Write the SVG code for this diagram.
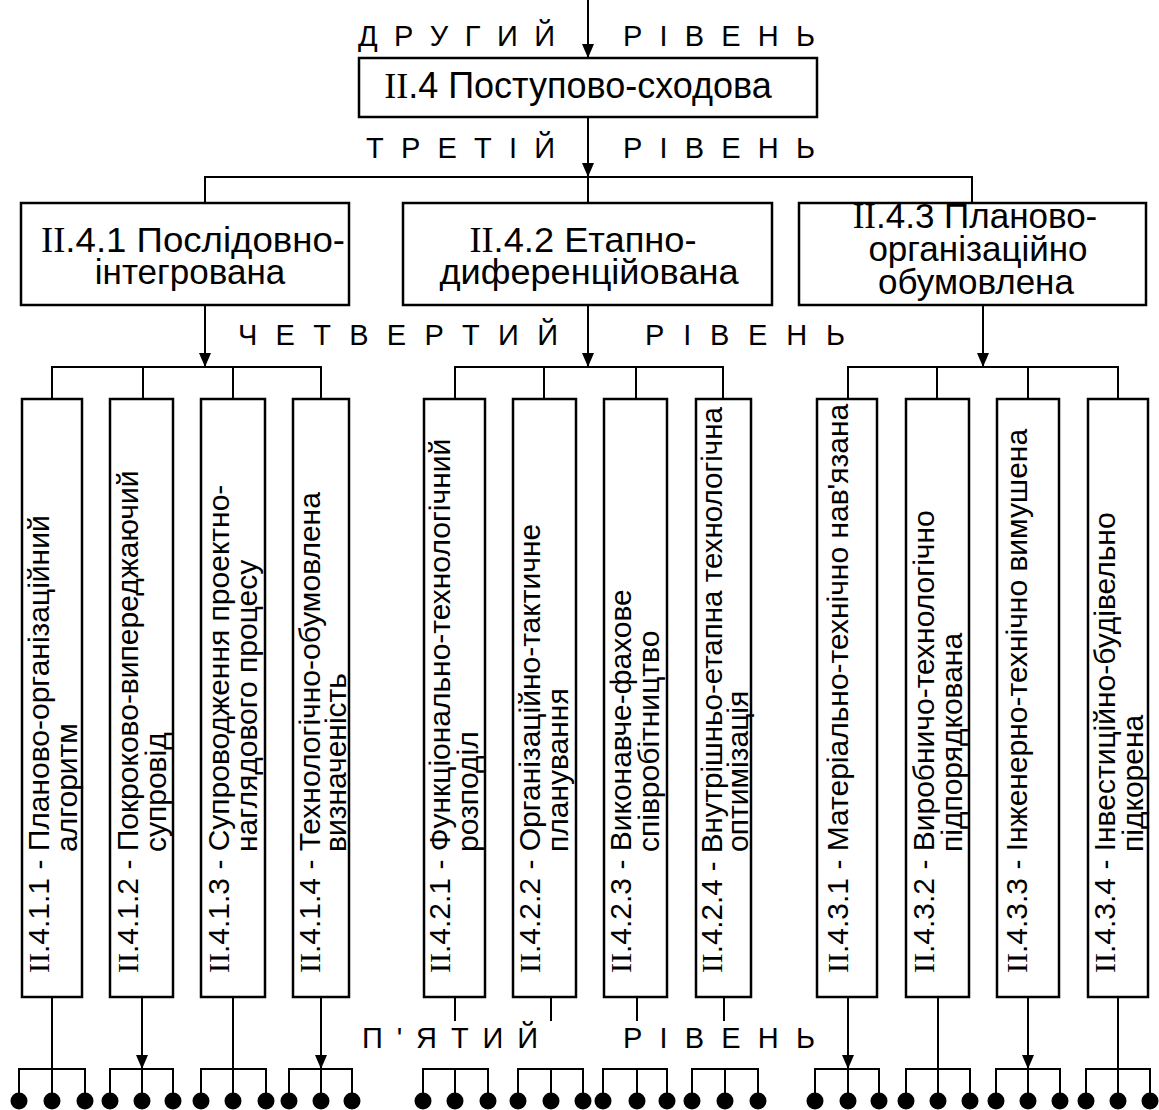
<svg xmlns="http://www.w3.org/2000/svg" width="1159" height="1110" viewBox="0 0 1159 1110">
<style>
text{font-family:"Liberation Sans",Arial,sans-serif;fill:#000}
.r{font-family:"Liberation Serif","Times New Roman",serif}
.lvl{font-size:29px}
.t3{font-size:35px;text-anchor:middle}
.t2{font-size:36px;text-anchor:middle}
.v{font-size:30px}
.box{fill:#fff;stroke:#000;stroke-width:2.5}
.ln{fill:none;stroke:#000;stroke-width:2}
.dot{fill:#000}
</style>
<defs>
<marker id="ar" markerUnits="userSpaceOnUse" markerWidth="14" markerHeight="12" viewBox="0 0 14 12" refX="14" refY="6" orient="auto">
<path d="M0,0 L14,6 L0,12 z" fill="#000"/>
</marker>
</defs>

<g id="labels" class="lvl">
<text x="358" y="46" textLength="197" lengthAdjust="spacing">Д Р У Г И Й</text>
<text x="623" y="46" textLength="192" lengthAdjust="spacing">Р І В Е Н Ь</text>
<text x="366" y="158" textLength="189" lengthAdjust="spacing">Т Р Е Т І Й</text>
<text x="623" y="158" textLength="192" lengthAdjust="spacing">Р І В Е Н Ь</text>
<text x="238" y="345" textLength="320" lengthAdjust="spacing">Ч Е Т В Е Р Т И Й</text>
<text x="645" y="345" textLength="200" lengthAdjust="spacing">Р І В Е Н Ь</text>
<text x="362" y="1048" textLength="176" lengthAdjust="spacing">П ' Я Т И Й</text>
<text x="623" y="1048" textLength="192" lengthAdjust="spacing">Р І В Е Н Ь</text>
</g>

<g id="connectors">
<path class="ln" d="M588,0 V58" marker-end="url(#ar)"/>
<path class="ln" d="M588,117 V177" marker-end="url(#ar)"/>
<path class="ln" d="M205,203 V177 H972 V203 M588,177 V203"/>
<path class="ln" d="M205,305 V367" marker-end="url(#ar)"/>
<path class="ln" d="M588,305 V367" marker-end="url(#ar)"/>
<path class="ln" d="M983,305 V367" marker-end="url(#ar)"/>
<path class="ln" d="M52,399 V367 H321 V399 M143,367 V399 M233,367 V399"/>
<path class="ln" d="M455,399 V367 H723 V399 M544,367 V399 M636,367 V399"/>
<path class="ln" d="M848,399 V367 H1118 V399 M937,367 V399 M1028,367 V399"/>
<path class="ln" d="M52,997 V1069"/>
<path class="ln" d="M142,997 V1069" marker-end="url(#ar)"/>
<path class="ln" d="M233,997 V1069"/>
<path class="ln" d="M321,997 V1069" marker-end="url(#ar)"/>
<path class="ln" d="M19,1101 V1069 H85 V1101 M52,1069 V1101"/>
<path class="ln" d="M110,1101 V1069 H173 V1101 M142,1069 V1101"/>
<path class="ln" d="M201,1101 V1069 H266 V1101 M233,1069 V1101"/>
<path class="ln" d="M289,1101 V1069 H352 V1101 M321,1069 V1101"/>
<path class="ln" d="M455,997 V1021 M551,997 V1021 M637,997 V1021 M724,997 V1021"/>
<path class="ln" d="M423,1101 V1069 H488 V1101 M455,1069 V1101"/>
<path class="ln" d="M518,1101 V1069 H583 V1101 M551,1069 V1101"/>
<path class="ln" d="M603,1101 V1069 H667 V1101 M637,1069 V1101"/>
<path class="ln" d="M692,1101 V1069 H758 V1101 M725,1069 V1101"/>
<path class="ln" d="M848,997 V1069" marker-end="url(#ar)"/>
<path class="ln" d="M938,997 V1069"/>
<path class="ln" d="M1028,997 V1069" marker-end="url(#ar)"/>
<path class="ln" d="M1118,997 V1069"/>
<path class="ln" d="M815,1101 V1069 H879 V1101 M848,1069 V1101"/>
<path class="ln" d="M906,1101 V1069 H970 V1101 M938,1069 V1101"/>
<path class="ln" d="M996,1101 V1069 H1060 V1101 M1028,1069 V1101"/>
<path class="ln" d="M1086,1101 V1069 H1150 V1101 M1118,1069 V1101"/>
</g>

<g id="terminals" class="dot">
<circle cx="19" cy="1101" r="8.5"/><circle cx="52" cy="1101" r="8.5"/><circle cx="85" cy="1101" r="8.5"/>
<circle cx="110" cy="1101" r="8.5"/><circle cx="142" cy="1101" r="8.5"/><circle cx="173" cy="1101" r="8.5"/>
<circle cx="201" cy="1101" r="8.5"/><circle cx="233" cy="1101" r="8.5"/><circle cx="266" cy="1101" r="8.5"/>
<circle cx="289" cy="1101" r="8.5"/><circle cx="321" cy="1101" r="8.5"/><circle cx="352" cy="1101" r="8.5"/>
<circle cx="423" cy="1101" r="8.5"/><circle cx="455" cy="1101" r="8.5"/><circle cx="488" cy="1101" r="8.5"/>
<circle cx="518" cy="1101" r="8.5"/><circle cx="551" cy="1101" r="8.5"/><circle cx="583" cy="1101" r="8.5"/>
<circle cx="603" cy="1101" r="8.5"/><circle cx="637" cy="1101" r="8.5"/><circle cx="667" cy="1101" r="8.5"/>
<circle cx="692" cy="1101" r="8.5"/><circle cx="725" cy="1101" r="8.5"/><circle cx="758" cy="1101" r="8.5"/>
<circle cx="815" cy="1101" r="8.5"/><circle cx="848" cy="1101" r="8.5"/><circle cx="879" cy="1101" r="8.5"/>
<circle cx="906" cy="1101" r="8.5"/><circle cx="938" cy="1101" r="8.5"/><circle cx="970" cy="1101" r="8.5"/>
<circle cx="996" cy="1101" r="8.5"/><circle cx="1028" cy="1101" r="8.5"/><circle cx="1060" cy="1101" r="8.5"/>
<circle cx="1086" cy="1101" r="8.5"/><circle cx="1118" cy="1101" r="8.5"/><circle cx="1150" cy="1101" r="8.5"/>
</g>

<g id="n-II4">
<rect class="box" x="359" y="58" width="458" height="59"/>
<text class="t2" x="578" y="98"><tspan class="r">II</tspan>.4 Поступово-сходова</text>
</g>

<g id="n-II41">
<rect class="box" x="21" y="203" width="328" height="102"/>
<text class="t3" x="193" y="252" textLength="304" lengthAdjust="spacingAndGlyphs"><tspan class="r">II</tspan>.4.1 Послідовно-</text>
<text class="t3" x="190" y="284">інтегрована</text>
</g>
<g id="n-II42">
<rect class="box" x="403" y="203" width="369" height="102"/>
<text class="t3" x="583" y="252" textLength="227" lengthAdjust="spacingAndGlyphs"><tspan class="r">II</tspan>.4.2 Етапно-</text>
<text class="t3" x="589" y="284" textLength="299" lengthAdjust="spacingAndGlyphs">диференційована</text>
</g>
<g id="n-II43">
<rect class="box" x="799" y="203" width="347" height="102"/>
<text class="t3" x="975" y="228"><tspan class="r">II</tspan>.4.3 Планово-</text>
<text class="t3" x="978" y="261">організаційно</text>
<text class="t3" x="976" y="294">обумовлена</text>
</g>

<g id="n-II411">
<rect class="box" x="22" y="399" width="60" height="598"/>
<g transform="translate(22,973) rotate(-90)" class="v">
<text x="0" y="27"><tspan class="r">II</tspan>.4.1.1 - Планово-організаційний</text>
<text x="121" y="55">алгоритм</text>
</g>
</g>
<g id="n-II412">
<rect class="box" x="110" y="399" width="63" height="598"/>
<g transform="translate(110,973) rotate(-90)" class="v">
<text x="0" y="28"><tspan class="r">II</tspan>.4.1.2 - Покроково-випереджаючий</text>
<text x="121" y="56">супровід</text>
</g>
</g>
<g id="n-II413">
<rect class="box" x="201" y="399" width="64" height="598"/>
<g transform="translate(201,973) rotate(-90)" class="v">
<text x="0" y="28"><tspan class="r">II</tspan>.4.1.3 - Супроводження проектно-</text>
<text x="121" y="56">наглядового процесу</text>
</g>
</g>
<g id="n-II414">
<rect class="box" x="293" y="399" width="56" height="598"/>
<g transform="translate(293,973) rotate(-90)" class="v">
<text x="0" y="27"><tspan class="r">II</tspan>.4.1.4 - Технологічно-обумовлена</text>
<text x="121" y="53">визначеність</text>
</g>
</g>

<g id="n-II421">
<rect class="box" x="424" y="399" width="61" height="598"/>
<g transform="translate(424,973) rotate(-90)" class="v">
<text x="0" y="26"><tspan class="r">II</tspan>.4.2.1 - Функціонально-технологічний</text>
<text x="121" y="54">розподіл</text>
</g>
</g>
<g id="n-II422">
<rect class="box" x="513" y="399" width="63" height="598"/>
<g transform="translate(513,973) rotate(-90)" class="v">
<text x="0" y="27"><tspan class="r">II</tspan>.4.2.2 - Організаційно-тактичне</text>
<text x="121" y="55">планування</text>
</g>
</g>
<g id="n-II423">
<rect class="box" x="604" y="399" width="63" height="598"/>
<g transform="translate(604,973) rotate(-90)" class="v">
<text x="0" y="27"><tspan class="r">II</tspan>.4.2.3 - Виконавче-фахове</text>
<text x="121" y="55">співробітництво</text>
</g>
</g>
<g id="n-II424">
<rect class="box" x="696" y="399" width="55" height="598"/>
<g transform="translate(696,973) rotate(-90)" class="v">
<text x="0" y="26" textLength="566" lengthAdjust="spacingAndGlyphs"><tspan class="r">II</tspan>.4.2.4 - Внутрішньо-етапна технологічна</text>
<text x="121" y="52">оптимізація</text>
</g>
</g>

<g id="n-II431">
<rect class="box" x="817" y="399" width="60" height="598"/>
<g transform="translate(817,973) rotate(-90)" class="v">
<text x="0" y="31"><tspan class="r">II</tspan>.4.3.1 - Матеріально-технічно нав'язана</text>
</g>
</g>
<g id="n-II432">
<rect class="box" x="906" y="399" width="63" height="598"/>
<g transform="translate(906,973) rotate(-90)" class="v">
<text x="0" y="28"><tspan class="r">II</tspan>.4.3.2 - Виробничо-технологічно</text>
<text x="121" y="56">підпорядкована</text>
</g>
</g>
<g id="n-II433">
<rect class="box" x="997" y="399" width="62" height="598"/>
<g transform="translate(997,973) rotate(-90)" class="v">
<text x="0" y="30"><tspan class="r">II</tspan>.4.3.3 - Інженерно-технічно вимушена</text>
</g>
</g>
<g id="n-II434">
<rect class="box" x="1088" y="399" width="60" height="598"/>
<g transform="translate(1088,973) rotate(-90)" class="v">
<text x="0" y="27"><tspan class="r">II</tspan>.4.3.4 - Інвестиційно-будівельно</text>
<text x="121" y="55">підкорена</text>
</g>
</g>
</svg>
